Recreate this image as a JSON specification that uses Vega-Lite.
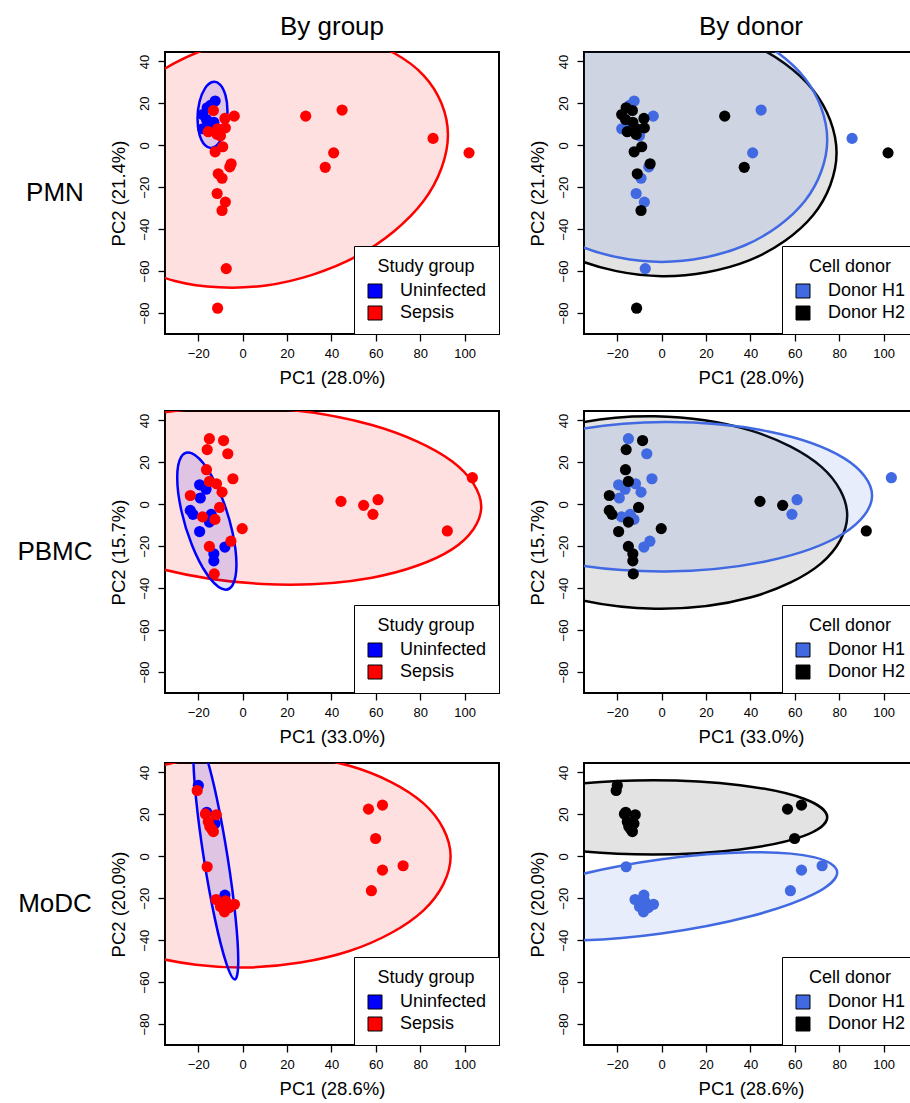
{
"$schema": "https://vega.github.io/schema/vega-lite/v6.json",
"padding": {"left": 5, "top": 13, "right": 0, "bottom": 0},
"config": {
 "font": "Liberation Sans",
 "view": {"stroke": "black", "strokeWidth": 2},
 "axis": {"domain": false, "grid": false, "ticks": true, "tickColor": "black", "tickSize": 7, "tickWidth": 1.3, "labelFontSize": 13, "labelColor": "black", "titleFontSize": 18.5, "titleFontWeight": "normal", "titleColor": "black", "labelFlush": false},
 "axisY": {"labelAngle": -90, "labelAlign": "center", "labelBaseline": "alphabetic", "labelPadding": 10, "titlePadding": 10},
 "axisX": {"labelPadding": 6, "titlePadding": 8},
 "legend": {"orient": "bottom-right", "offset": 0, "fillColor": "white", "strokeColor": "black", "padding": 12, "titleFontSize": 18, "titleFontWeight": "normal", "titleColor": "black", "labelFontSize": 18, "labelColor": "black", "symbolType": "square", "symbolSize": 196, "symbolStrokeColor": "black", "symbolStrokeWidth": 1, "titleAnchor": "middle", "titlePadding": 6, "rowPadding": 4, "labelOffset": 16},
 "title": {"fontSize": 26, "fontWeight": "normal", "color": "black"}
},
"datasets": {
 "pmn": [
  {"x":-12.4,"y":21.1,"group":"Uninfected","donor":"Donor H1"},
  {"x":-14.5,"y":19.0,"group":"Uninfected","donor":"Donor H1"},
  {"x":-18.0,"y":7.9,"group":"Uninfected","donor":"Donor H1"},
  {"x":-15.0,"y":9.5,"group":"Uninfected","donor":"Donor H1"},
  {"x":-16.0,"y":17.9,"group":"Uninfected","donor":"Donor H2"},
  {"x":-18.0,"y":14.7,"group":"Uninfected","donor":"Donor H2"},
  {"x":-16.3,"y":12.3,"group":"Uninfected","donor":"Donor H2"},
  {"x":-13.0,"y":11.0,"group":"Uninfected","donor":"Donor H2"},
  {"x":-13.2,"y":16.6,"group":"Sepsis","donor":"Donor H2"},
  {"x":-3.8,"y":13.9,"group":"Sepsis","donor":"Donor H1"},
  {"x":-8.0,"y":12.8,"group":"Sepsis","donor":"Donor H2"},
  {"x":-7.8,"y":8.3,"group":"Sepsis","donor":"Donor H2"},
  {"x":-11.3,"y":7.9,"group":"Sepsis","donor":"Donor H2"},
  {"x":-15.5,"y":6.5,"group":"Sepsis","donor":"Donor H2"},
  {"x":-11.5,"y":5.2,"group":"Sepsis","donor":"Donor H2"},
  {"x":-10.0,"y":4.5,"group":"Sepsis","donor":"Donor H1"},
  {"x":-9.0,"y":-0.7,"group":"Sepsis","donor":"Donor H2"},
  {"x":-12.4,"y":-3.1,"group":"Sepsis","donor":"Donor H2"},
  {"x":-5.2,"y":-8.8,"group":"Sepsis","donor":"Donor H2"},
  {"x":-5.8,"y":-10.3,"group":"Sepsis","donor":"Donor H1"},
  {"x":-11.0,"y":-13.6,"group":"Sepsis","donor":"Donor H2"},
  {"x":-9.3,"y":-15.7,"group":"Sepsis","donor":"Donor H1"},
  {"x":-11.5,"y":-23.0,"group":"Sepsis","donor":"Donor H1"},
  {"x":-7.8,"y":-27.1,"group":"Sepsis","donor":"Donor H1"},
  {"x":-9.3,"y":-31.1,"group":"Sepsis","donor":"Donor H2"},
  {"x":-7.4,"y":-58.8,"group":"Sepsis","donor":"Donor H1"},
  {"x":-11.3,"y":-77.7,"group":"Sepsis","donor":"Donor H2"},
  {"x":28.4,"y":13.9,"group":"Sepsis","donor":"Donor H2"},
  {"x":44.8,"y":16.8,"group":"Sepsis","donor":"Donor H1"},
  {"x":85.8,"y":3.3,"group":"Sepsis","donor":"Donor H1"},
  {"x":102.0,"y":-3.6,"group":"Sepsis","donor":"Donor H2"},
  {"x":41.0,"y":-3.6,"group":"Sepsis","donor":"Donor H1"},
  {"x":37.2,"y":-10.5,"group":"Sepsis","donor":"Donor H2"}
 ],
 "pbmc": [
  {"x":-19.4,"y":9.3,"group":"Uninfected","donor":"Donor H1"},
  {"x":-16.5,"y":7.2,"group":"Uninfected","donor":"Donor H1"},
  {"x":-19.1,"y":3.0,"group":"Uninfected","donor":"Donor H1"},
  {"x":-23.6,"y":-2.9,"group":"Uninfected","donor":"Donor H2"},
  {"x":-22.4,"y":-4.8,"group":"Uninfected","donor":"Donor H2"},
  {"x":-14.2,"y":-4.8,"group":"Uninfected","donor":"Donor H1"},
  {"x":-15.0,"y":-8.5,"group":"Uninfected","donor":"Donor H2"},
  {"x":-19.4,"y":-13.0,"group":"Uninfected","donor":"Donor H2"},
  {"x":-8.0,"y":-20.4,"group":"Uninfected","donor":"Donor H1"},
  {"x":-13.0,"y":-23.6,"group":"Uninfected","donor":"Donor H2"},
  {"x":-13.0,"y":-27.0,"group":"Uninfected","donor":"Donor H2"},
  {"x":-15.0,"y":31.3,"group":"Sepsis","donor":"Donor H1"},
  {"x":-8.6,"y":30.4,"group":"Sepsis","donor":"Donor H2"},
  {"x":-16.0,"y":26.1,"group":"Sepsis","donor":"Donor H2"},
  {"x":-6.7,"y":24.1,"group":"Sepsis","donor":"Donor H1"},
  {"x":-16.3,"y":16.5,"group":"Sepsis","donor":"Donor H2"},
  {"x":-4.4,"y":12.2,"group":"Sepsis","donor":"Donor H1"},
  {"x":-15.0,"y":10.9,"group":"Sepsis","donor":"Donor H2"},
  {"x":-11.8,"y":9.8,"group":"Sepsis","donor":"Donor H1"},
  {"x":-9.3,"y":5.8,"group":"Sepsis","donor":"Donor H1"},
  {"x":-23.6,"y":4.2,"group":"Sepsis","donor":"Donor H2"},
  {"x":-10.4,"y":-1.5,"group":"Sepsis","donor":"Donor H2"},
  {"x":-18.1,"y":-6.0,"group":"Sepsis","donor":"Donor H1"},
  {"x":-12.5,"y":-7.2,"group":"Sepsis","donor":"Donor H1"},
  {"x":-0.2,"y":-11.6,"group":"Sepsis","donor":"Donor H2"},
  {"x":-5.3,"y":-17.6,"group":"Sepsis","donor":"Donor H1"},
  {"x":-15.0,"y":-20.1,"group":"Sepsis","donor":"Donor H2"},
  {"x":-12.8,"y":-33.2,"group":"Sepsis","donor":"Donor H2"},
  {"x":44.3,"y":1.4,"group":"Sepsis","donor":"Donor H2"},
  {"x":54.5,"y":-0.5,"group":"Sepsis","donor":"Donor H2"},
  {"x":61.0,"y":2.2,"group":"Sepsis","donor":"Donor H1"},
  {"x":58.7,"y":-4.8,"group":"Sepsis","donor":"Donor H1"},
  {"x":92.2,"y":-12.7,"group":"Sepsis","donor":"Donor H2"},
  {"x":103.5,"y":12.7,"group":"Sepsis","donor":"Donor H1"}
 ],
 "modc": [
  {"x":-20.0,"y":33.8,"group":"Uninfected","donor":"Donor H2"},
  {"x":-16.2,"y":21.0,"group":"Uninfected","donor":"Donor H2"},
  {"x":-12.5,"y":15.6,"group":"Uninfected","donor":"Donor H2"},
  {"x":-8.0,"y":-18.5,"group":"Uninfected","donor":"Donor H1"},
  {"x":-9.5,"y":-22.0,"group":"Uninfected","donor":"Donor H1"},
  {"x":-20.5,"y":31.4,"group":"Sepsis","donor":"Donor H2"},
  {"x":-16.8,"y":20.2,"group":"Sepsis","donor":"Donor H2"},
  {"x":-11.9,"y":19.8,"group":"Sepsis","donor":"Donor H2"},
  {"x":-15.5,"y":16.5,"group":"Sepsis","donor":"Donor H2"},
  {"x":-14.8,"y":14.2,"group":"Sepsis","donor":"Donor H2"},
  {"x":-14.0,"y":13.0,"group":"Sepsis","donor":"Donor H2"},
  {"x":-13.2,"y":11.8,"group":"Sepsis","donor":"Donor H2"},
  {"x":56.7,"y":22.5,"group":"Sepsis","donor":"Donor H2"},
  {"x":63.0,"y":24.4,"group":"Sepsis","donor":"Donor H2"},
  {"x":59.9,"y":8.5,"group":"Sepsis","donor":"Donor H2"},
  {"x":-16.0,"y":-5.0,"group":"Sepsis","donor":"Donor H1"},
  {"x":-12.0,"y":-20.6,"group":"Sepsis","donor":"Donor H1"},
  {"x":-7.7,"y":-21.3,"group":"Sepsis","donor":"Donor H1"},
  {"x":-3.7,"y":-22.9,"group":"Sepsis","donor":"Donor H1"},
  {"x":-8.2,"y":-26.5,"group":"Sepsis","donor":"Donor H1"},
  {"x":-10.0,"y":-24.0,"group":"Sepsis","donor":"Donor H1"},
  {"x":-6.0,"y":-24.5,"group":"Sepsis","donor":"Donor H1"},
  {"x":63.0,"y":-6.6,"group":"Sepsis","donor":"Donor H1"},
  {"x":72.3,"y":-4.5,"group":"Sepsis","donor":"Donor H1"},
  {"x":58.0,"y":-16.4,"group":"Sepsis","donor":"Donor H1"}
 ],
 "ell": [
  {"row":"PMN","cls":"Sepsis","i":0,"x":92.5,"y":5.0},
  {"row":"PMN","cls":"Sepsis","i":1,"x":81.5,"y":33.4},
  {"row":"PMN","cls":"Sepsis","i":2,"x":51.5,"y":51.1},
  {"row":"PMN","cls":"Sepsis","i":3,"x":10.5,"y":53.25},
  {"row":"PMN","cls":"Sepsis","i":4,"x":-30.5,"y":39.3},
  {"row":"PMN","cls":"Sepsis","i":5,"x":-60.5,"y":13.0},
  {"row":"PMN","cls":"Sepsis","i":6,"x":-71.5,"y":-18.6},
  {"row":"PMN","cls":"Sepsis","i":7,"x":-60.5,"y":-47.05},
  {"row":"PMN","cls":"Sepsis","i":8,"x":-30.5,"y":-64.7},
  {"row":"PMN","cls":"Sepsis","i":9,"x":10.5,"y":-66.85},
  {"row":"PMN","cls":"Sepsis","i":10,"x":51.5,"y":-52.9},
  {"row":"PMN","cls":"Sepsis","i":11,"x":81.5,"y":-26.6},
  {"row":"PMN","cls":"Uninfected","i":0,"x":-6.85,"y":16.3},
  {"row":"PMN","cls":"Uninfected","i":1,"x":-7.75,"y":23.9},
  {"row":"PMN","cls":"Uninfected","i":2,"x":-10.2,"y":28.95},
  {"row":"PMN","cls":"Uninfected","i":3,"x":-13.6,"y":30.15},
  {"row":"PMN","cls":"Uninfected","i":4,"x":-16.98,"y":27.15},
  {"row":"PMN","cls":"Uninfected","i":5,"x":-19.45,"y":20.8},
  {"row":"PMN","cls":"Uninfected","i":6,"x":-20.35,"y":12.7},
  {"row":"PMN","cls":"Uninfected","i":7,"x":-19.45,"y":5.1},
  {"row":"PMN","cls":"Uninfected","i":8,"x":-16.98,"y":0.05},
  {"row":"PMN","cls":"Uninfected","i":9,"x":-13.6,"y":-1.15},
  {"row":"PMN","cls":"Uninfected","i":10,"x":-10.2,"y":1.85},
  {"row":"PMN","cls":"Uninfected","i":11,"x":-7.75,"y":8.2},
  {"row":"PMN","cls":"Donor H2","i":0,"x":78.8,"y":-3.6},
  {"row":"PMN","cls":"Donor H2","i":1,"x":68.2,"y":26.4},
  {"row":"PMN","cls":"Donor H2","i":2,"x":39.4,"y":48.7},
  {"row":"PMN","cls":"Donor H2","i":3,"x":0,"y":57.2},
  {"row":"PMN","cls":"Donor H2","i":4,"x":-39.4,"y":49.7},
  {"row":"PMN","cls":"Donor H2","i":5,"x":-68.2,"y":28.2},
  {"row":"PMN","cls":"Donor H2","i":6,"x":-78.8,"y":-1.6},
  {"row":"PMN","cls":"Donor H2","i":7,"x":-68.2,"y":-31.6},
  {"row":"PMN","cls":"Donor H2","i":8,"x":-39.4,"y":-53.9},
  {"row":"PMN","cls":"Donor H2","i":9,"x":0,"y":-62.4},
  {"row":"PMN","cls":"Donor H2","i":10,"x":39.4,"y":-54.9},
  {"row":"PMN","cls":"Donor H2","i":11,"x":68.2,"y":-33.4},
  {"row":"PMN","cls":"Donor H1","i":0,"x":74.6,"y":2.7},
  {"row":"PMN","cls":"Donor H1","i":1,"x":64.6,"y":31.85},
  {"row":"PMN","cls":"Donor H1","i":2,"x":37.3,"y":53.2},
  {"row":"PMN","cls":"Donor H1","i":3,"x":0,"y":61.0},
  {"row":"PMN","cls":"Donor H1","i":4,"x":-37.3,"y":53.2},
  {"row":"PMN","cls":"Donor H1","i":5,"x":-64.6,"y":31.85},
  {"row":"PMN","cls":"Donor H1","i":6,"x":-74.6,"y":2.7},
  {"row":"PMN","cls":"Donor H1","i":7,"x":-64.6,"y":-26.45},
  {"row":"PMN","cls":"Donor H1","i":8,"x":-37.3,"y":-47.8},
  {"row":"PMN","cls":"Donor H1","i":9,"x":0,"y":-55.6},
  {"row":"PMN","cls":"Donor H1","i":10,"x":37.3,"y":-47.8},
  {"row":"PMN","cls":"Donor H1","i":11,"x":64.6,"y":-26.45},
  {"row":"PBMC","cls":"Sepsis","i":0,"x":107.5,"y":-1.2},
  {"row":"PBMC","cls":"Sepsis","i":1,"x":94.3,"y":20.5},
  {"row":"PBMC","cls":"Sepsis","i":2,"x":58.25,"y":37.8},
  {"row":"PBMC","cls":"Sepsis","i":3,"x":9,"y":46.0},
  {"row":"PBMC","cls":"Sepsis","i":4,"x":-40.25,"y":43.0},
  {"row":"PBMC","cls":"Sepsis","i":5,"x":-76.3,"y":29.5},
  {"row":"PBMC","cls":"Sepsis","i":6,"x":-89.5,"y":9.2},
  {"row":"PBMC","cls":"Sepsis","i":7,"x":-76.3,"y":-12.5},
  {"row":"PBMC","cls":"Sepsis","i":8,"x":-40.25,"y":-29.8},
  {"row":"PBMC","cls":"Sepsis","i":9,"x":9,"y":-38.0},
  {"row":"PBMC","cls":"Sepsis","i":10,"x":58.25,"y":-35.0},
  {"row":"PBMC","cls":"Sepsis","i":11,"x":94.3,"y":-21.5},
  {"row":"PBMC","cls":"Uninfected","i":0,"x":-2.8,"y":-28.75},
  {"row":"PBMC","cls":"Uninfected","i":1,"x":-4.59,"y":-13.33},
  {"row":"PBMC","cls":"Uninfected","i":2,"x":-9.47,"y":3.5},
  {"row":"PBMC","cls":"Uninfected","i":3,"x":-16.15,"y":17.27},
  {"row":"PBMC","cls":"Uninfected","i":4,"x":-22.83,"y":24.26},
  {"row":"PBMC","cls":"Uninfected","i":5,"x":-27.71,"y":22.61},
  {"row":"PBMC","cls":"Uninfected","i":6,"x":-29.5,"y":12.75},
  {"row":"PBMC","cls":"Uninfected","i":7,"x":-27.71,"y":-2.67},
  {"row":"PBMC","cls":"Uninfected","i":8,"x":-22.83,"y":-19.5},
  {"row":"PBMC","cls":"Uninfected","i":9,"x":-16.15,"y":-33.27},
  {"row":"PBMC","cls":"Uninfected","i":10,"x":-9.47,"y":-40.26},
  {"row":"PBMC","cls":"Uninfected","i":11,"x":-4.59,"y":-38.61},
  {"row":"PBMC","cls":"Donor H2","i":0,"x":83.6,"y":-5.3},
  {"row":"PBMC","cls":"Donor H2","i":1,"x":72.0,"y":17.83},
  {"row":"PBMC","cls":"Donor H2","i":2,"x":40.3,"y":35.13},
  {"row":"PBMC","cls":"Donor H2","i":3,"x":-3,"y":41.98},
  {"row":"PBMC","cls":"Donor H2","i":4,"x":-46.3,"y":36.53},
  {"row":"PBMC","cls":"Donor H2","i":5,"x":-78.0,"y":20.25},
  {"row":"PBMC","cls":"Donor H2","i":6,"x":-89.6,"y":-2.5},
  {"row":"PBMC","cls":"Donor H2","i":7,"x":-78.0,"y":-25.63},
  {"row":"PBMC","cls":"Donor H2","i":8,"x":-46.3,"y":-42.93},
  {"row":"PBMC","cls":"Donor H2","i":9,"x":-3,"y":-49.78},
  {"row":"PBMC","cls":"Donor H2","i":10,"x":40.3,"y":-44.33},
  {"row":"PBMC","cls":"Donor H2","i":11,"x":72.0,"y":-28.05},
  {"row":"PBMC","cls":"Donor H1","i":0,"x":94.8,"y":4.2},
  {"row":"PBMC","cls":"Donor H1","i":1,"x":82.3,"y":21.92},
  {"row":"PBMC","cls":"Donor H1","i":2,"x":48.15,"y":34.73},
  {"row":"PBMC","cls":"Donor H1","i":3,"x":1.5,"y":39.2},
  {"row":"PBMC","cls":"Donor H1","i":4,"x":-45.15,"y":34.13},
  {"row":"PBMC","cls":"Donor H1","i":5,"x":-79.3,"y":20.88},
  {"row":"PBMC","cls":"Donor H1","i":6,"x":-91.8,"y":3.0},
  {"row":"PBMC","cls":"Donor H1","i":7,"x":-79.3,"y":-14.72},
  {"row":"PBMC","cls":"Donor H1","i":8,"x":-45.15,"y":-27.53},
  {"row":"PBMC","cls":"Donor H1","i":9,"x":1.5,"y":-32.0},
  {"row":"PBMC","cls":"Donor H1","i":10,"x":48.15,"y":-26.93},
  {"row":"PBMC","cls":"Donor H1","i":11,"x":82.3,"y":-13.68},
  {"row":"MoDC","cls":"Sepsis","i":0,"x":93.7,"y":0},
  {"row":"MoDC","cls":"Sepsis","i":1,"x":81.5,"y":25.23},
  {"row":"MoDC","cls":"Sepsis","i":2,"x":48.1,"y":43.17},
  {"row":"MoDC","cls":"Sepsis","i":3,"x":2.5,"y":49.0},
  {"row":"MoDC","cls":"Sepsis","i":4,"x":-43.1,"y":41.17},
  {"row":"MoDC","cls":"Sepsis","i":5,"x":-76.5,"y":21.77},
  {"row":"MoDC","cls":"Sepsis","i":6,"x":-88.7,"y":-4.0},
  {"row":"MoDC","cls":"Sepsis","i":7,"x":-76.5,"y":-29.23},
  {"row":"MoDC","cls":"Sepsis","i":8,"x":-43.1,"y":-47.17},
  {"row":"MoDC","cls":"Sepsis","i":9,"x":2.5,"y":-53.0},
  {"row":"MoDC","cls":"Sepsis","i":10,"x":48.1,"y":-45.17},
  {"row":"MoDC","cls":"Sepsis","i":11,"x":81.5,"y":-25.77},
  {"row":"MoDC","cls":"Uninfected","i":0,"x":-20.64,"y":56.7},
  {"row":"MoDC","cls":"Uninfected","i":1,"x":-16.8,"y":48.97},
  {"row":"MoDC","cls":"Uninfected","i":2,"x":-11.69,"y":27.85},
  {"row":"MoDC","cls":"Uninfected","i":3,"x":-6.7,"y":-1.0},
  {"row":"MoDC","cls":"Uninfected","i":4,"x":-3.15,"y":-29.85},
  {"row":"MoDC","cls":"Uninfected","i":5,"x":-2.0,"y":-50.97},
  {"row":"MoDC","cls":"Uninfected","i":6,"x":-3.56,"y":-58.7},
  {"row":"MoDC","cls":"Uninfected","i":7,"x":-7.4,"y":-50.97},
  {"row":"MoDC","cls":"Uninfected","i":8,"x":-12.51,"y":-29.85},
  {"row":"MoDC","cls":"Uninfected","i":9,"x":-17.5,"y":-1.0},
  {"row":"MoDC","cls":"Uninfected","i":10,"x":-21.05,"y":27.85},
  {"row":"MoDC","cls":"Uninfected","i":11,"x":-22.2,"y":48.97},
  {"row":"MoDC","cls":"Donor H2","i":0,"x":74.6,"y":18.6},
  {"row":"MoDC","cls":"Donor H2","i":1,"x":64.1,"y":27.45},
  {"row":"MoDC","cls":"Donor H2","i":2,"x":35.35,"y":33.93},
  {"row":"MoDC","cls":"Donor H2","i":3,"x":-3.9,"y":36.3},
  {"row":"MoDC","cls":"Donor H2","i":4,"x":-43.15,"y":33.93},
  {"row":"MoDC","cls":"Donor H2","i":5,"x":-71.9,"y":27.45},
  {"row":"MoDC","cls":"Donor H2","i":6,"x":-82.4,"y":18.6},
  {"row":"MoDC","cls":"Donor H2","i":7,"x":-71.9,"y":9.75},
  {"row":"MoDC","cls":"Donor H2","i":8,"x":-43.15,"y":3.27},
  {"row":"MoDC","cls":"Donor H2","i":9,"x":-3.9,"y":0.9},
  {"row":"MoDC","cls":"Donor H2","i":10,"x":35.35,"y":3.27},
  {"row":"MoDC","cls":"Donor H2","i":11,"x":64.1,"y":9.75},
  {"row":"MoDC","cls":"Donor H1","i":0,"x":79.1,"y":-7.7},
  {"row":"MoDC","cls":"Donor H1","i":1,"x":68.5,"y":-0.38},
  {"row":"MoDC","cls":"Donor H1","i":2,"x":39.55,"y":1.93},
  {"row":"MoDC","cls":"Donor H1","i":3,"x":0,"y":-1.4},
  {"row":"MoDC","cls":"Donor H1","i":4,"x":-39.55,"y":-9.47},
  {"row":"MoDC","cls":"Donor H1","i":5,"x":-68.5,"y":-20.12},
  {"row":"MoDC","cls":"Donor H1","i":6,"x":-79.1,"y":-30.5},
  {"row":"MoDC","cls":"Donor H1","i":7,"x":-68.5,"y":-37.82},
  {"row":"MoDC","cls":"Donor H1","i":8,"x":-39.55,"y":-40.13},
  {"row":"MoDC","cls":"Donor H1","i":9,"x":0,"y":-36.8},
  {"row":"MoDC","cls":"Donor H1","i":10,"x":39.55,"y":-28.73},
  {"row":"MoDC","cls":"Donor H1","i":11,"x":68.5,"y":-18.08}
 ]
},
"spacing": 22,
"resolve": {"scale": {"color": "independent"}, "legend": {"color": "independent"}},
"vconcat": [
 {
  "spacing": 3,
  "resolve": {"scale": {"color": "independent"}, "legend": {"color": "independent"}},
  "hconcat": [
   {"width": 100, "height": 282, "view": {"stroke": null}, "data": {"values": [{"label": "PMN"}]}, "mark": {"type": "text", "fontSize": 26, "color": "black"}, "encoding": {"text": {"field": "label", "type": "nominal"}}},
   {
    "spacing": 26,
    "resolve": {"scale": {"color": "independent"}, "legend": {"color": "independent"}},
    "hconcat": [
     {
      "width": 334, "height": 282,
      "title": {"text": "By group", "anchor": "middle", "frame": "group", "offset": 12},
      "encoding": {
       "x": {"field": "x", "type": "quantitative", "scale": {"domain": [-35, 115.5], "nice": false, "zero": false}, "axis": {"values": [-20, 0, 20, 40, 60, 80, 100], "title": "PC1 (28.0%)"}},
       "y": {"field": "y", "type": "quantitative", "scale": {"domain": [-90, 44.5], "nice": false, "zero": false}, "axis": {"values": [-80, -60, -40, -20, 0, 20, 40], "title": "PC2 (21.4%)"}}
      },
      "layer": [
       {"data": {"name": "ell"}, "transform": [{"filter": "datum.row == 'PMN' && datum.cls == 'Sepsis'"}], "mark": {"type": "line", "interpolate": "cardinal-closed", "clip": true, "stroke": "#FF0000", "strokeWidth": 2.5, "fill": "#FF0000", "fillOpacity": 0.12}, "encoding": {"order": {"field": "i", "type": "quantitative"}}},
       {"data": {"name": "ell"}, "transform": [{"filter": "datum.row == 'PMN' && datum.cls == 'Uninfected'"}], "mark": {"type": "line", "interpolate": "cardinal-closed", "clip": true, "stroke": "#0000FF", "strokeWidth": 2.5, "fill": "#0000FF", "fillOpacity": 0.12}, "encoding": {"order": {"field": "i", "type": "quantitative"}}},
       {"data": {"name": "pmn"}, "mark": {"type": "circle", "size": 125, "opacity": 1}, "encoding": {"color": {"field": "group", "type": "nominal", "scale": {"domain": ["Uninfected", "Sepsis"], "range": ["#0000FF", "#FF0000"]}, "legend": {"title": "Study group", "symbolType": "square", "symbolStrokeColor": "black", "symbolStrokeWidth": 1}}, "order": {"field": "group", "sort": "descending"}}}
      ]
     },
     {
      "width": 334, "height": 282,
      "title": {"text": "By donor", "anchor": "middle", "frame": "group", "offset": 12},
      "encoding": {
       "x": {"field": "x", "type": "quantitative", "scale": {"domain": [-35, 115.5], "nice": false, "zero": false}, "axis": {"values": [-20, 0, 20, 40, 60, 80, 100], "title": "PC1 (28.0%)"}},
       "y": {"field": "y", "type": "quantitative", "scale": {"domain": [-90, 44.5], "nice": false, "zero": false}, "axis": {"values": [-80, -60, -40, -20, 0, 20, 40], "title": "PC2 (21.4%)"}}
      },
      "layer": [
       {"data": {"name": "ell"}, "transform": [{"filter": "datum.row == 'PMN' && datum.cls == 'Donor H2'"}], "mark": {"type": "line", "interpolate": "cardinal-closed", "clip": true, "stroke": "#000000", "strokeWidth": 2.5, "fill": "#000000", "fillOpacity": 0.11}, "encoding": {"order": {"field": "i", "type": "quantitative"}}},
       {"data": {"name": "ell"}, "transform": [{"filter": "datum.row == 'PMN' && datum.cls == 'Donor H1'"}], "mark": {"type": "line", "interpolate": "cardinal-closed", "clip": true, "stroke": "#4169E1", "strokeWidth": 2.5, "fill": "#4169E1", "fillOpacity": 0.12}, "encoding": {"order": {"field": "i", "type": "quantitative"}}},
       {"data": {"name": "pmn"}, "mark": {"type": "circle", "size": 125, "opacity": 1}, "encoding": {"color": {"field": "donor", "type": "nominal", "scale": {"domain": ["Donor H1", "Donor H2"], "range": ["#4169E1", "#000000"]}, "legend": {"title": "Cell donor", "symbolType": "square", "symbolStrokeColor": "black", "symbolStrokeWidth": 1}}, "order": {"field": "donor", "sort": "ascending"}}}
      ]
     }
    ]
   }
  ]
 },
 {
  "spacing": 15,
  "resolve": {"scale": {"color": "independent"}, "legend": {"color": "independent"}},
  "vconcat": [
   {
    "spacing": 3,
    "resolve": {"scale": {"color": "independent"}, "legend": {"color": "independent"}},
    "hconcat": [
     {"width": 100, "height": 282, "view": {"stroke": null}, "data": {"values": [{"label": "PBMC"}]}, "mark": {"type": "text", "fontSize": 26, "color": "black"}, "encoding": {"text": {"field": "label", "type": "nominal"}}},
     {
      "spacing": 26,
      "resolve": {"scale": {"color": "independent"}, "legend": {"color": "independent"}},
      "hconcat": [
       {
        "width": 334, "height": 282,
        "encoding": {
         "x": {"field": "x", "type": "quantitative", "scale": {"domain": [-35, 115.5], "nice": false, "zero": false}, "axis": {"values": [-20, 0, 20, 40, 60, 80, 100], "title": "PC1 (33.0%)"}},
         "y": {"field": "y", "type": "quantitative", "scale": {"domain": [-90, 44.5], "nice": false, "zero": false}, "axis": {"values": [-80, -60, -40, -20, 0, 20, 40], "title": "PC2 (15.7%)"}}
        },
        "layer": [
         {"data": {"name": "ell"}, "transform": [{"filter": "datum.row == 'PBMC' && datum.cls == 'Sepsis'"}], "mark": {"type": "line", "interpolate": "cardinal-closed", "clip": true, "stroke": "#FF0000", "strokeWidth": 2.5, "fill": "#FF0000", "fillOpacity": 0.12}, "encoding": {"order": {"field": "i", "type": "quantitative"}}},
         {"data": {"name": "ell"}, "transform": [{"filter": "datum.row == 'PBMC' && datum.cls == 'Uninfected'"}], "mark": {"type": "line", "interpolate": "cardinal-closed", "clip": true, "stroke": "#0000FF", "strokeWidth": 2.5, "fill": "#0000FF", "fillOpacity": 0.12}, "encoding": {"order": {"field": "i", "type": "quantitative"}}},
         {"data": {"name": "pbmc"}, "mark": {"type": "circle", "size": 125, "opacity": 1}, "encoding": {"color": {"field": "group", "type": "nominal", "scale": {"domain": ["Uninfected", "Sepsis"], "range": ["#0000FF", "#FF0000"]}, "legend": {"title": "Study group", "symbolType": "square", "symbolStrokeColor": "black", "symbolStrokeWidth": 1}}, "order": {"field": "group", "sort": "descending"}}}
        ]
       },
       {
        "width": 334, "height": 282,
        "encoding": {
         "x": {"field": "x", "type": "quantitative", "scale": {"domain": [-35, 115.5], "nice": false, "zero": false}, "axis": {"values": [-20, 0, 20, 40, 60, 80, 100], "title": "PC1 (33.0%)"}},
         "y": {"field": "y", "type": "quantitative", "scale": {"domain": [-90, 44.5], "nice": false, "zero": false}, "axis": {"values": [-80, -60, -40, -20, 0, 20, 40], "title": "PC2 (15.7%)"}}
        },
        "layer": [
         {"data": {"name": "ell"}, "transform": [{"filter": "datum.row == 'PBMC' && datum.cls == 'Donor H2'"}], "mark": {"type": "line", "interpolate": "cardinal-closed", "clip": true, "stroke": "#000000", "strokeWidth": 2.5, "fill": "#000000", "fillOpacity": 0.11}, "encoding": {"order": {"field": "i", "type": "quantitative"}}},
         {"data": {"name": "ell"}, "transform": [{"filter": "datum.row == 'PBMC' && datum.cls == 'Donor H1'"}], "mark": {"type": "line", "interpolate": "cardinal-closed", "clip": true, "stroke": "#4169E1", "strokeWidth": 2.5, "fill": "#4169E1", "fillOpacity": 0.12}, "encoding": {"order": {"field": "i", "type": "quantitative"}}},
         {"data": {"name": "pbmc"}, "mark": {"type": "circle", "size": 125, "opacity": 1}, "encoding": {"color": {"field": "donor", "type": "nominal", "scale": {"domain": ["Donor H1", "Donor H2"], "range": ["#4169E1", "#000000"]}, "legend": {"title": "Cell donor", "symbolType": "square", "symbolStrokeColor": "black", "symbolStrokeWidth": 1}}, "order": {"field": "donor", "sort": "ascending"}}}
        ]
       }
      ]
     }
    ]
   },
   {
    "spacing": 3,
    "resolve": {"scale": {"color": "independent"}, "legend": {"color": "independent"}},
    "hconcat": [
     {"width": 100, "height": 282, "view": {"stroke": null}, "data": {"values": [{"label": "MoDC"}]}, "mark": {"type": "text", "fontSize": 26, "color": "black"}, "encoding": {"text": {"field": "label", "type": "nominal"}}},
     {
      "spacing": 26,
      "resolve": {"scale": {"color": "independent"}, "legend": {"color": "independent"}},
      "hconcat": [
       {
        "width": 334, "height": 282,
        "encoding": {
         "x": {"field": "x", "type": "quantitative", "scale": {"domain": [-35, 115.5], "nice": false, "zero": false}, "axis": {"values": [-20, 0, 20, 40, 60, 80, 100], "title": "PC1 (28.6%)"}},
         "y": {"field": "y", "type": "quantitative", "scale": {"domain": [-90, 44.5], "nice": false, "zero": false}, "axis": {"values": [-80, -60, -40, -20, 0, 20, 40], "title": "PC2 (20.0%)"}}
        },
        "layer": [
         {"data": {"name": "ell"}, "transform": [{"filter": "datum.row == 'MoDC' && datum.cls == 'Sepsis'"}], "mark": {"type": "line", "interpolate": "cardinal-closed", "clip": true, "stroke": "#FF0000", "strokeWidth": 2.5, "fill": "#FF0000", "fillOpacity": 0.12}, "encoding": {"order": {"field": "i", "type": "quantitative"}}},
         {"data": {"name": "ell"}, "transform": [{"filter": "datum.row == 'MoDC' && datum.cls == 'Uninfected'"}], "mark": {"type": "line", "interpolate": "cardinal-closed", "clip": true, "stroke": "#0000FF", "strokeWidth": 2.5, "fill": "#0000FF", "fillOpacity": 0.12}, "encoding": {"order": {"field": "i", "type": "quantitative"}}},
         {"data": {"name": "modc"}, "mark": {"type": "circle", "size": 125, "opacity": 1}, "encoding": {"color": {"field": "group", "type": "nominal", "scale": {"domain": ["Uninfected", "Sepsis"], "range": ["#0000FF", "#FF0000"]}, "legend": {"title": "Study group", "symbolType": "square", "symbolStrokeColor": "black", "symbolStrokeWidth": 1}}, "order": {"field": "group", "sort": "descending"}}}
        ]
       },
       {
        "width": 334, "height": 282,
        "encoding": {
         "x": {"field": "x", "type": "quantitative", "scale": {"domain": [-35, 115.5], "nice": false, "zero": false}, "axis": {"values": [-20, 0, 20, 40, 60, 80, 100], "title": "PC1 (28.6%)"}},
         "y": {"field": "y", "type": "quantitative", "scale": {"domain": [-90, 44.5], "nice": false, "zero": false}, "axis": {"values": [-80, -60, -40, -20, 0, 20, 40], "title": "PC2 (20.0%)"}}
        },
        "layer": [
         {"data": {"name": "ell"}, "transform": [{"filter": "datum.row == 'MoDC' && datum.cls == 'Donor H2'"}], "mark": {"type": "line", "interpolate": "cardinal-closed", "clip": true, "stroke": "#000000", "strokeWidth": 2.5, "fill": "#000000", "fillOpacity": 0.11}, "encoding": {"order": {"field": "i", "type": "quantitative"}}},
         {"data": {"name": "ell"}, "transform": [{"filter": "datum.row == 'MoDC' && datum.cls == 'Donor H1'"}], "mark": {"type": "line", "interpolate": "cardinal-closed", "clip": true, "stroke": "#4169E1", "strokeWidth": 2.5, "fill": "#4169E1", "fillOpacity": 0.12}, "encoding": {"order": {"field": "i", "type": "quantitative"}}},
         {"data": {"name": "modc"}, "mark": {"type": "circle", "size": 125, "opacity": 1}, "encoding": {"color": {"field": "donor", "type": "nominal", "scale": {"domain": ["Donor H1", "Donor H2"], "range": ["#4169E1", "#000000"]}, "legend": {"title": "Cell donor", "symbolType": "square", "symbolStrokeColor": "black", "symbolStrokeWidth": 1}}, "order": {"field": "donor", "sort": "ascending"}}}
        ]
       }
      ]
     }
    ]
   }
  ]
 }
]
}
